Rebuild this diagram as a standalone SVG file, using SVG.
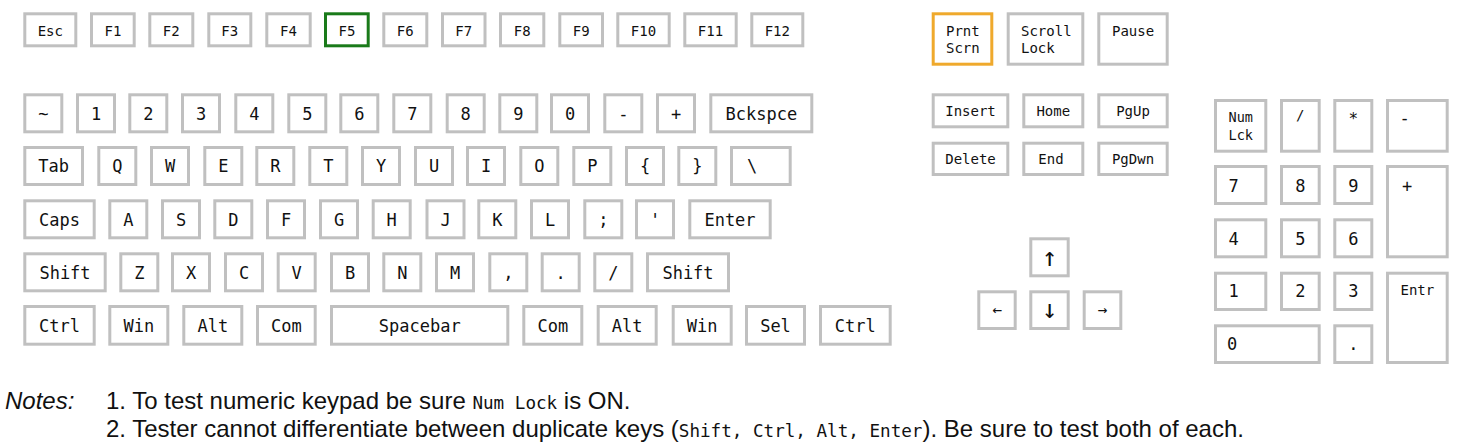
<svg xmlns="http://www.w3.org/2000/svg" width="1457" height="447" viewBox="0 0 1457 447">
<style>
rect{fill:#fff;stroke:#c0c0c0;stroke-width:3}
rect.green{stroke:#1a7a1a}
rect.orange{stroke:#efa92c}
text{font-family:"DejaVu Sans Mono","Liberation Mono",monospace;fill:#111}
.s{font-size:14px;text-anchor:middle}
.sl{font-size:14px}
.m{font-size:17px;text-anchor:middle}
.ml{font-size:17px}
.arr{font-family:"DejaVu Sans Mono",monospace;font-size:26px;text-anchor:middle}
.note{font-family:"Liberation Sans",Arial,sans-serif;font-size:24px;fill:#111}
.mono{font-family:"DejaVu Sans Mono","Liberation Mono",monospace;font-size:17.6px}
</style>
<rect x="0" y="0" width="1457" height="447" style="fill:#fff;stroke:none"/>
<!-- Function row -->
<g id="k-esc"><rect x="24.8" y="13.8" width="51" height="32"/><text class="s" x="50.3" y="35.5">Esc</text></g>
<g id="k-f1"><rect x="91.5" y="13.8" width="42.7" height="32"/><text class="s" x="112.9" y="35.5">F1</text></g>
<g id="k-f2"><rect x="149.8" y="13.8" width="43" height="32"/><text class="s" x="171.3" y="35.5">F2</text></g>
<g id="k-f3"><rect x="208.8" y="13.8" width="42" height="32"/><text class="s" x="229.8" y="35.5">F3</text></g>
<g id="k-f4"><rect x="266.8" y="13.8" width="43.4" height="32"/><text class="s" x="288.5" y="35.5">F4</text></g>
<g id="k-f5"><rect class="green" x="325.5" y="13.8" width="42.7" height="32"/><text class="s" x="346.9" y="35.5">F5</text></g>
<g id="k-f6"><rect x="383.8" y="13.8" width="43" height="32"/><text class="s" x="405.3" y="35.5">F6</text></g>
<g id="k-f7"><rect x="442.5" y="13.8" width="42.5" height="32"/><text class="s" x="463.8" y="35.5">F7</text></g>
<g id="k-f8"><rect x="500.5" y="13.8" width="43.3" height="32"/><text class="s" x="522.2" y="35.5">F8</text></g>
<g id="k-f9"><rect x="559.8" y="13.8" width="42.7" height="32"/><text class="s" x="581.2" y="35.5">F9</text></g>
<g id="k-f10"><rect x="617.8" y="13.8" width="51.4" height="32"/><text class="s" x="643.5" y="35.5">F10</text></g>
<g id="k-f11"><rect x="684.8" y="13.8" width="51.4" height="32"/><text class="s" x="710.5" y="35.5">F11</text></g>
<g id="k-f12"><rect x="751.8" y="13.8" width="51" height="32"/><text class="s" x="777.3" y="35.5">F12</text></g>
<!-- Number row -->
<g id="k-tilde"><rect x="24.8" y="94.8" width="37" height="37"/><text class="m" x="43.3" y="119.8">~</text></g>
<g id="k-1"><rect x="77.5" y="94.8" width="37" height="37"/><text class="m" x="96" y="119.8">1</text></g>
<g id="k-2"><rect x="129.8" y="94.8" width="37" height="37"/><text class="m" x="148.3" y="119.8">2</text></g>
<g id="k-3"><rect x="182.5" y="94.8" width="37" height="37"/><text class="m" x="201" y="119.8">3</text></g>
<g id="k-4"><rect x="235.8" y="94.8" width="37" height="37"/><text class="m" x="254.3" y="119.8">4</text></g>
<g id="k-5"><rect x="288.8" y="94.8" width="37" height="37"/><text class="m" x="307.3" y="119.8">5</text></g>
<g id="k-6"><rect x="340.8" y="94.8" width="37" height="37"/><text class="m" x="359.3" y="119.8">6</text></g>
<g id="k-7"><rect x="393.8" y="94.8" width="37" height="37"/><text class="m" x="412.3" y="119.8">7</text></g>
<g id="k-8"><rect x="447.2" y="94.8" width="37" height="37"/><text class="m" x="465.7" y="119.8">8</text></g>
<g id="k-9"><rect x="499.8" y="94.8" width="37" height="37"/><text class="m" x="518.3" y="119.8">9</text></g>
<g id="k-0"><rect x="551.5" y="94.8" width="37" height="37"/><text class="m" x="570" y="119.8">0</text></g>
<g id="k-minus"><rect x="604.8" y="94.8" width="37" height="37"/><text class="m" x="623.3" y="119.8">-</text></g>
<g id="k-plus"><rect x="657.5" y="94.8" width="37" height="37"/><text class="m" x="676" y="119.8">+</text></g>
<g id="k-bksp"><rect x="710.8" y="94.8" width="101" height="37"/><text class="m" x="761.3" y="119.8">Bckspce</text></g>
<!-- QWERTY row -->
<g id="k-tab"><rect x="24.8" y="147.5" width="57.7" height="37"/><text class="m" x="53.7" y="172.3">Tab</text></g>
<g id="k-q"><rect x="98.8" y="147.5" width="37" height="37"/><text class="m" x="117.3" y="172.3">Q</text></g>
<g id="k-w"><rect x="151.5" y="147.5" width="37" height="37"/><text class="m" x="170" y="172.3">W</text></g>
<g id="k-e"><rect x="204.8" y="147.5" width="37" height="37"/><text class="m" x="223.3" y="172.3">E</text></g>
<g id="k-r"><rect x="256.8" y="147.5" width="37" height="37"/><text class="m" x="275.3" y="172.3">R</text></g>
<g id="k-t"><rect x="309.8" y="147.5" width="37" height="37"/><text class="m" x="328.3" y="172.3">T</text></g>
<g id="k-y"><rect x="362.5" y="147.5" width="37" height="37"/><text class="m" x="381" y="172.3">Y</text></g>
<g id="k-u"><rect x="415.5" y="147.5" width="37" height="37"/><text class="m" x="434" y="172.3">U</text></g>
<g id="k-i"><rect x="467.5" y="147.5" width="37" height="37"/><text class="m" x="486" y="172.3">I</text></g>
<g id="k-o"><rect x="520.8" y="147.5" width="37" height="37"/><text class="m" x="539.3" y="172.3">O</text></g>
<g id="k-p"><rect x="573.8" y="147.5" width="37" height="37"/><text class="m" x="592.3" y="172.3">P</text></g>
<g id="k-lbrace"><rect x="626.5" y="147.5" width="37" height="37"/><text class="m" x="645" y="172.3">{</text></g>
<g id="k-rbrace"><rect x="678.8" y="147.5" width="37" height="37"/><text class="m" x="697.3" y="172.3">}</text></g>
<g id="k-backslash"><rect x="731.5" y="147.5" width="58.7" height="37"/><text class="m" x="752" y="172.3">\</text></g>
<!-- Home row -->
<g id="k-caps"><rect x="24.8" y="200.8" width="69.4" height="37"/><text class="m" x="59.5" y="225.5">Caps</text></g>
<g id="k-a"><rect x="109.8" y="200.8" width="37" height="37"/><text class="m" x="128.3" y="225.5">A</text></g>
<g id="k-s"><rect x="162.5" y="200.8" width="37" height="37"/><text class="m" x="181" y="225.5">S</text></g>
<g id="k-d"><rect x="214.8" y="200.8" width="37" height="37"/><text class="m" x="233.3" y="225.5">D</text></g>
<g id="k-f"><rect x="267.5" y="200.8" width="37" height="37"/><text class="m" x="286" y="225.5">F</text></g>
<g id="k-g"><rect x="320.5" y="200.8" width="37" height="37"/><text class="m" x="339" y="225.5">G</text></g>
<g id="k-h"><rect x="373.2" y="200.8" width="37" height="37"/><text class="m" x="391.7" y="225.5">H</text></g>
<g id="k-j"><rect x="427" y="200.8" width="37" height="37"/><text class="m" x="445.5" y="225.5">J</text></g>
<g id="k-k"><rect x="478.8" y="200.8" width="37" height="37"/><text class="m" x="497.3" y="225.5">K</text></g>
<g id="k-l"><rect x="531.5" y="200.8" width="37" height="37"/><text class="m" x="550" y="225.5">L</text></g>
<g id="k-semicolon"><rect x="584.8" y="200.8" width="37" height="37"/><text class="m" x="603.3" y="225.5">;</text></g>
<g id="k-quote"><rect x="636.5" y="200.8" width="37" height="37"/><text class="m" x="655" y="225.5">'</text></g>
<g id="k-enter"><rect x="689.8" y="200.8" width="80.4" height="37"/><text class="m" x="730" y="225.5">Enter</text></g>
<!-- Shift row -->
<g id="k-lshift"><rect x="24.8" y="253.8" width="80.4" height="37"/><text class="m" x="65" y="279">Shift</text></g>
<g id="k-z"><rect x="120.8" y="253.8" width="37" height="37"/><text class="m" x="139.3" y="279">Z</text></g>
<g id="k-x"><rect x="172.5" y="253.8" width="37" height="37"/><text class="m" x="191" y="279">X</text></g>
<g id="k-c"><rect x="225.5" y="253.8" width="37" height="37"/><text class="m" x="244" y="279">C</text></g>
<g id="k-v"><rect x="278.2" y="253.8" width="37" height="37"/><text class="m" x="296.7" y="279">V</text></g>
<g id="k-b"><rect x="331.5" y="253.8" width="37" height="37"/><text class="m" x="350" y="279">B</text></g>
<g id="k-n"><rect x="383.8" y="253.8" width="37" height="37"/><text class="m" x="402.3" y="279">N</text></g>
<g id="k-m"><rect x="436.5" y="253.8" width="37" height="37"/><text class="m" x="455" y="279">M</text></g>
<g id="k-comma"><rect x="489.8" y="253.8" width="37" height="37"/><text class="m" x="508.3" y="279">,</text></g>
<g id="k-period"><rect x="542.2" y="253.8" width="37" height="37"/><text class="m" x="560.7" y="279">.</text></g>
<g id="k-slash"><rect x="594.8" y="253.8" width="37" height="37"/><text class="m" x="613.3" y="279">/</text></g>
<g id="k-rshift"><rect x="647.5" y="253.8" width="81" height="37"/><text class="m" x="688" y="279">Shift</text></g>
<!-- Bottom row -->
<g id="k-lctrl"><rect x="24.8" y="306.5" width="69.4" height="37.7"/><text class="m" x="59.5" y="332">Ctrl</text></g>
<g id="k-lwin"><rect x="109.8" y="306.5" width="58" height="37.7"/><text class="m" x="138.8" y="332">Win</text></g>
<g id="k-lalt"><rect x="183.8" y="306.5" width="58" height="37.7"/><text class="m" x="212.8" y="332">Alt</text></g>
<g id="k-lcom"><rect x="257.5" y="306.5" width="57.7" height="37.7"/><text class="m" x="286.3" y="332">Com</text></g>
<g id="k-space"><rect x="331.5" y="306.5" width="176.3" height="37.7"/><text class="m" x="419.7" y="332">Spacebar</text></g>
<g id="k-rcom"><rect x="523.8" y="306.5" width="58" height="37.7"/><text class="m" x="552.8" y="332">Com</text></g>
<g id="k-ralt"><rect x="598.2" y="306.5" width="58" height="37.7"/><text class="m" x="627.2" y="332">Alt</text></g>
<g id="k-rwin"><rect x="673.2" y="306.5" width="58" height="37.7"/><text class="m" x="702.2" y="332">Win</text></g>
<g id="k-sel"><rect x="746.5" y="306.5" width="58" height="37.7"/><text class="m" x="775.5" y="332">Sel</text></g>
<g id="k-rctrl"><rect x="820.5" y="306.5" width="69.7" height="37.7"/><text class="m" x="855.3" y="332">Ctrl</text></g>
<!-- System keys -->
<g id="k-prntscrn"><rect class="orange" x="933.2" y="13.8" width="58.6" height="50.4"/><text class="sl" x="946" y="35.5">Prnt</text><text class="sl" x="946" y="53.3">Scrn</text></g>
<g id="k-scrolllock"><rect x="1008.2" y="13.8" width="74.6" height="50.4"/><text class="sl" x="1021" y="35.5">Scroll</text><text class="sl" x="1021" y="53.3">Lock</text></g>
<g id="k-pause"><rect x="1098.8" y="13.8" width="68.4" height="50.4"/><text class="sl" x="1112" y="35.5">Pause</text></g>
<!-- Navigation -->
<g id="k-insert"><rect x="933.2" y="94.8" width="74.6" height="32"/><text class="s" x="970.5" y="116.3">Insert</text></g>
<g id="k-home"><rect x="1023.8" y="94.8" width="59" height="32"/><text class="s" x="1053.3" y="116.3">Home</text></g>
<g id="k-pgup"><rect x="1098.8" y="94.8" width="68.4" height="32"/><text class="s" x="1133" y="116.3">PgUp</text></g>
<g id="k-delete"><rect x="933.2" y="143.2" width="74.6" height="31.3"/><text class="s" x="970.5" y="164.2">Delete</text></g>
<g id="k-end"><rect x="1023.8" y="143.2" width="59" height="31.3"/><text class="s" x="1051" y="164.2">End</text></g>
<g id="k-pgdwn"><rect x="1098.8" y="143.2" width="68.4" height="31.3"/><text class="s" x="1133" y="164.2">PgDwn</text></g>
<!-- Arrows -->
<g id="k-up"><rect x="1030.8" y="238.8" width="37.4" height="37"/><text class="arr" x="1049.5" y="266">↑</text></g>
<g id="k-left"><rect x="978.8" y="291.8" width="36.4" height="36.7"/><text class="s" style="font-size:16px" x="997.2" y="315">←</text></g>
<g id="k-down"><rect x="1030.8" y="291.8" width="37.4" height="36.7"/><text class="arr" x="1049.5" y="318">↓</text></g>
<g id="k-right"><rect x="1084.2" y="291.8" width="36.6" height="36.7"/><text class="s" style="font-size:16px" x="1102.5" y="315">→</text></g>
<!-- Numeric keypad -->
<g id="k-numlock"><rect x="1215.5" y="100.5" width="50.3" height="50.7"/><text class="sl" style="font-size:13.5px" x="1228.5" y="121.7">Num</text><text class="sl" style="font-size:13.5px" x="1228.5" y="140">Lck</text></g>
<g id="k-kpdiv"><rect x="1281.5" y="100.5" width="37.7" height="50.7"/><text class="s" x="1300.3" y="120">/</text></g>
<g id="k-kpmul"><rect x="1334.8" y="100.5" width="37" height="50.7"/><text class="s" style="font-size:16px" x="1353.3" y="124">*</text></g>
<g id="k-kpminus"><rect x="1387.5" y="100.5" width="59.7" height="50.7"/><text class="ml" x="1399.5" y="124">-</text></g>
<g id="k-kp7"><rect x="1215.5" y="166.5" width="50.3" height="37"/><text class="ml" x="1228.5" y="191.5">7</text></g>
<g id="k-kp8"><rect x="1281.5" y="166.5" width="37.7" height="37"/><text class="m" x="1300.3" y="191.5">8</text></g>
<g id="k-kp9"><rect x="1334.8" y="166.5" width="37" height="37"/><text class="m" x="1353.3" y="191.5">9</text></g>
<g id="k-kpplus"><rect x="1387.5" y="166.5" width="59.7" height="90.3"/><text class="ml" x="1402" y="191.5">+</text></g>
<g id="k-kp4"><rect x="1215.5" y="219.8" width="50.3" height="37"/><text class="ml" x="1228.5" y="244.8">4</text></g>
<g id="k-kp5"><rect x="1281.5" y="219.8" width="37.7" height="37"/><text class="m" x="1300.3" y="244.8">5</text></g>
<g id="k-kp6"><rect x="1334.8" y="219.8" width="37" height="37"/><text class="m" x="1353.3" y="244.8">6</text></g>
<g id="k-kp1"><rect x="1215.5" y="273.2" width="50.3" height="36.3"/><text class="ml" x="1228.5" y="297">1</text></g>
<g id="k-kp2"><rect x="1281.5" y="273.2" width="37.7" height="36.3"/><text class="m" x="1300.3" y="297">2</text></g>
<g id="k-kp3"><rect x="1334.8" y="273.2" width="37" height="36.3"/><text class="m" x="1353.3" y="297">3</text></g>
<g id="k-kpenter"><rect x="1387.5" y="273.2" width="59.7" height="89.3"/><text class="sl" x="1400.5" y="295">Entr</text></g>
<g id="k-kp0"><rect x="1215.5" y="325.8" width="103.7" height="36.7"/><text class="ml" x="1227" y="349.5">0</text></g>
<g id="k-kpdot"><rect x="1334.8" y="325.8" width="37" height="36.7"/><text class="m" x="1353.3" y="349.5">.</text></g>
<!-- Notes -->
<g id="notes">
<text class="note" x="5" y="408.5" font-style="italic">Notes:</text>
<text class="note" x="106" y="408.5">1. To test numeric keypad be sure <tspan class="mono">Num Lock</tspan> is ON.</text>
<text class="note" x="106" y="437">2. Tester cannot differentiate between duplicate keys (<tspan class="mono">Shift, Ctrl, Alt, Enter</tspan>). Be sure to test both of each.</text>
</g>
</svg>
